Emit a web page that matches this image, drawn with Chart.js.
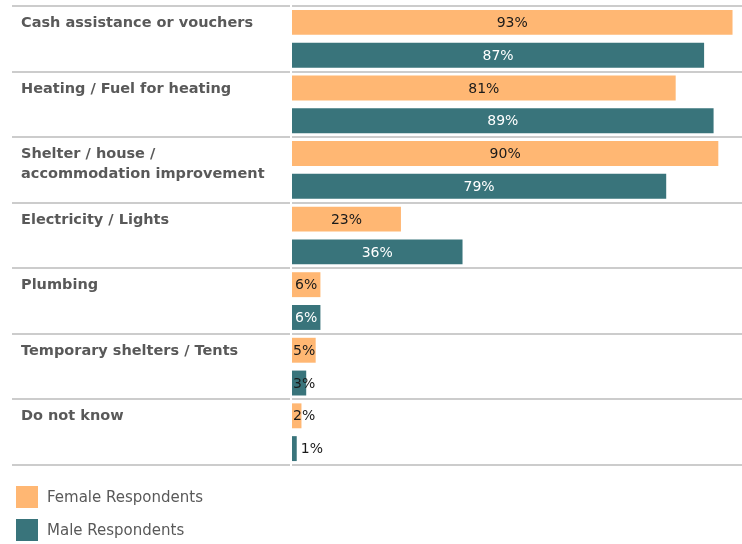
<!DOCTYPE html>
<html>
<head>
<meta charset="utf-8">
<script src="https://cdn.jsdelivr.net/npm/chart.js@4/dist/chart.umd.min.js"></script>
<style>
  html, body { margin: 0; padding: 0; background: #fff; }
  #wrap { position: relative; width: 742px; height: 544px; }
  #legend { position: absolute; left: 16px; top: 486px; font: 15px "DejaVu Sans", sans-serif; color: #595959; }
  .item { display: flex; align-items: center; height: 22px; margin-bottom: 11px; }
  .box { width: 22px; height: 22px; margin-right: 9px; }
</style>
</head>
<body>
<div id="wrap">
  <canvas id="chart" width="742" height="544"></canvas>
  <div id="legend"></div>
</div>
<script>
const categories = [
  "Cash assistance or vouchers",
  "Heating / Fuel for heating",
  ["Shelter / house /", "accommodation improvement"],
  "Electricity / Lights",
  "Plumbing",
  "Temporary shelters / Tents",
  "Do not know"
];
const femaleValues = [93, 81, 90, 23, 6, 5, 2];
const maleValues   = [87, 89, 79, 36, 6, 3, 1];
const seriesNames  = ["Female Respondents", "Male Respondents"];
const seriesColors = ["#FFB773", "#39747B"];

const labelPlugin = {
  id: "sideLabels",
  beforeDatasetsDraw(chart) {
    // small break in the separators where the label column meets the plot
    const { ctx, chartArea } = chart;
    ctx.save();
    ctx.fillStyle = "#ffffff";
    ctx.fillRect(chartArea.left - 2, chartArea.top - 2, 2, chartArea.bottom - chartArea.top + 4);
    ctx.restore();
  },
  afterDraw(chart) {
    const { ctx } = chart;
    const y = chart.scales.y;
    const band = y.getPixelForValue(1) - y.getPixelForValue(0);
    ctx.save();
    ctx.font = "bold 14.5px 'DejaVu Sans', sans-serif";
    ctx.fillStyle = "#595959";
    ctx.textAlign = "left";
    ctx.textBaseline = "alphabetic";
    categories.forEach((c, i) => {
      const top = y.getPixelForValue(i) - band / 2;
      const lines = Array.isArray(c) ? c : [c];
      lines.forEach((l, k) => ctx.fillText(l, 21, top + 21 + k * 20));
    });

    // value labels
    ctx.font = "14px 'DejaVu Sans', sans-serif";
    ctx.textBaseline = "middle";
    chart.data.datasets.forEach((ds, di) => {
      chart.getDatasetMeta(di).data.forEach((bar, i) => {
        const txt = ds.data[i] + "%";
        const tw = ctx.measureText(txt).width;
        const left = bar.base, right = bar.x, w = right - left;
        let cx;
        ctx.textAlign = "center";
        if (w < 8) {
          cx = right + 4 + tw / 2;
        } else {
          cx = Math.max((left + right) / 2, left + 1 + tw / 2);
        }
        ctx.fillStyle = (di === 1 && w > tw + 4) ? "#ffffff" : "#1a1a1a";
        ctx.fillText(txt, cx, bar.y + 1);
      });
    });
    ctx.restore();
  }
};

new Chart(document.getElementById("chart"), {
  type: "bar",
  data: {
    labels: categories,
    datasets: [
      { label: seriesNames[0], data: femaleValues, backgroundColor: seriesColors[0] },
      { label: seriesNames[1], data: maleValues, backgroundColor: seriesColors[1] }
    ]
  },
  options: {
    indexAxis: "y",
    responsive: false,
    animation: false,
    layout: { padding: { top: 6, bottom: 79, left: 0, right: 0 } },
    datasets: { bar: { categoryPercentage: 1, barPercentage: 0.76 } },
    plugins: { legend: { display: false }, tooltip: { enabled: false } },
    scales: {
      x: { display: false, min: 0, max: 95 },
      y: {
        afterFit: s => { s.width = 292; },
        ticks: { display: false },
        border: { display: false },
        grid: { offset: true, color: "#cccccc", lineWidth: 2, drawTicks: true, tickLength: 280 }
      }
    }
  },
  plugins: [labelPlugin]
});

const legend = document.getElementById("legend");
seriesNames.forEach((n, i) => {
  const d = document.createElement("div");
  d.className = "item";
  d.innerHTML = '<div class="box" style="background:' + seriesColors[i] + '"></div><span>' + n + '</span>';
  legend.appendChild(d);
});
</script>
</body>
</html>
